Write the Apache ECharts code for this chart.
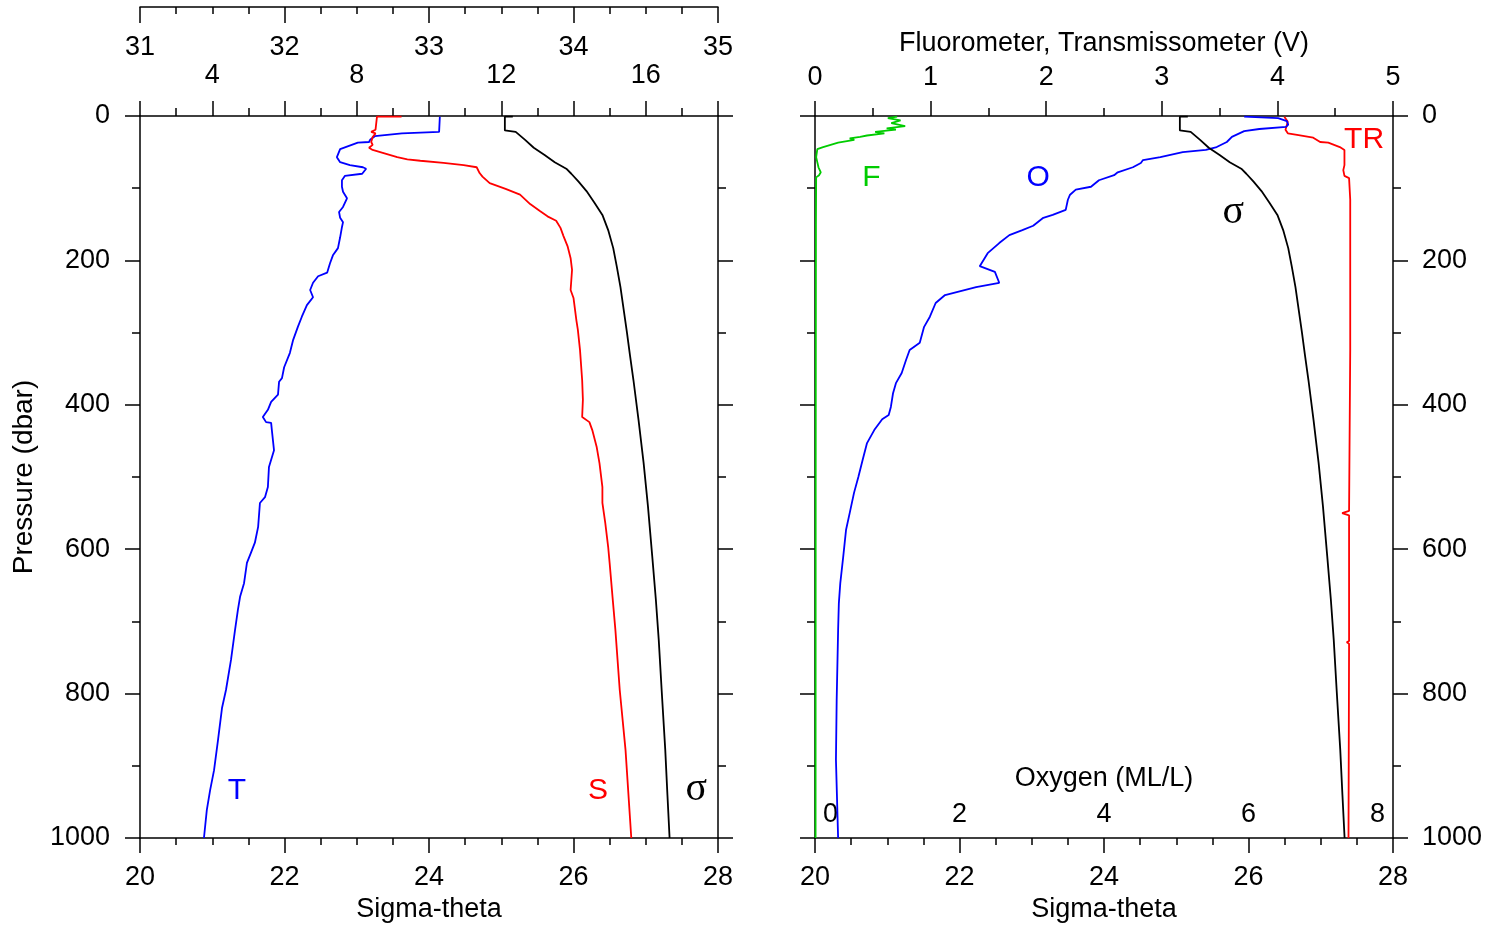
<!DOCTYPE html>
<html>
  <head>
    <meta charset="utf-8" />
    <title>CTD profile</title>
    <script src="https://cdn.jsdelivr.net/npm/echarts@6.0.0/dist/echarts.min.js"></script>
  </head>
  <body style="margin: 0">
    <div id="main" style="width: 1499px; height: 929px"></div>

    <script>
      // profiles as [value, pressure (dbar)]
      var temperature = [
        [10.3, 1], [10.28, 22], [9.25, 24], [8.5, 28], [8.37, 33], [8.34, 36], [8.03, 37],
        [7.54, 46], [7.45, 57], [7.54, 64], [7.81, 68], [8.17, 71], [8.26, 73], [8.15, 80],
        [7.67, 83], [7.59, 89], [7.59, 98], [7.62, 105], [7.73, 114], [7.62, 126], [7.51, 133],
        [7.54, 141], [7.62, 147], [7.59, 154], [7.54, 168], [7.48, 183], [7.34, 193], [7.26, 204],
        [7.18, 217], [6.93, 222], [6.79, 231], [6.71, 241], [6.79, 251], [6.62, 262], [6.48, 278],
        [6.37, 292], [6.24, 310], [6.15, 328], [5.99, 348], [5.93, 363], [5.85, 368], [5.82, 386],
        [5.63, 396], [5.54, 407], [5.4, 417], [5.49, 424], [5.63, 425], [5.65, 435], [5.71, 463],
        [5.57, 486], [5.54, 514], [5.46, 528], [5.32, 536], [5.27, 569], [5.18, 591], [5.07, 605],
        [4.96, 619], [4.88, 647], [4.77, 666], [4.71, 684], [4.63, 712], [4.52, 753], [4.38, 795],
        [4.27, 820], [4.16, 864], [4.05, 906], [3.94, 934], [3.85, 961], [3.77, 1000]
      ];
      var salinity = [
        [32.81, 1], [32.64, 1], [32.63, 19], [32.6, 22], [32.63, 24], [32.61, 29], [32.6, 36],
        [32.61, 40], [32.585, 44], [32.61, 47], [32.68, 51], [32.78, 57], [32.85, 60], [32.94, 62],
        [33.1, 65], [33.24, 68], [33.33, 71], [33.35, 79], [33.37, 84], [33.42, 93], [33.53, 101],
        [33.63, 109], [33.7, 122], [33.77, 132], [33.82, 139], [33.88, 145], [33.91, 155],
        [33.93, 166], [33.96, 181], [33.98, 197], [33.99, 213], [33.98, 241], [34.0, 252],
        [34.02, 283], [34.03, 296], [34.045, 324], [34.06, 366], [34.065, 393], [34.06, 417],
        [34.11, 424], [34.13, 435], [34.16, 458], [34.18, 481], [34.2, 514], [34.2, 536],
        [34.22, 564], [34.24, 597], [34.25, 619], [34.27, 666], [34.29, 712], [34.32, 795],
        [34.36, 878], [34.4, 1000]
      ];
      var sigmaTheta = [
        [25.16, 1], [25.05, 1], [25.05, 20], [25.2, 22], [25.33, 33], [25.45, 44], [25.6, 54],
        [25.74, 64], [25.9, 73], [25.97, 80], [26.07, 91], [26.18, 104], [26.29, 120], [26.4, 137],
        [26.48, 158], [26.55, 183], [26.6, 209], [26.65, 237], [26.69, 265], [26.74, 300],
        [26.78, 330], [26.83, 366], [26.9, 421], [26.97, 480], [27.03, 540], [27.09, 610],
        [27.14, 670], [27.18, 726], [27.22, 795], [27.27, 878], [27.3, 940], [27.33, 1000]
      ];
      var oxygen = [
        [5.94, 1], [6.41, 3], [6.53, 7], [6.55, 12], [6.52, 15], [6.15, 18], [5.94, 21], [5.77, 29],
        [5.7, 36], [5.56, 43], [5.41, 47], [5.09, 50], [4.78, 57], [4.54, 61], [4.51, 65], [4.4, 71],
        [4.19, 78], [4.14, 82], [3.93, 89], [3.82, 98], [3.61, 102], [3.53, 109], [3.5, 116],
        [3.47, 130], [3.29, 137], [3.16, 141], [3.02, 152], [2.87, 158], [2.69, 165], [2.55, 176],
        [2.39, 190], [2.28, 208], [2.49, 216], [2.55, 231], [2.23, 237], [1.8, 248], [1.67, 259],
        [1.59, 278], [1.51, 292], [1.45, 314], [1.31, 324], [1.26, 338], [1.2, 356], [1.12, 370],
        [1.08, 384], [1.05, 403], [1.02, 414], [0.93, 420], [0.82, 435], [0.72, 453], [0.66, 476],
        [0.6, 500], [0.54, 522], [0.48, 550], [0.43, 573], [0.39, 611], [0.35, 647], [0.33, 675],
        [0.32, 712], [0.3, 809], [0.29, 892], [0.32, 1000]
      ];
      var fluorometer = [
        [0.71, 1], [0.63, 3], [0.74, 6], [0.66, 10], [0.78, 14], [0.62, 17], [0.7, 19], [0.52, 22],
        [0.6, 24], [0.45, 27], [0.39, 29], [0.3, 31], [0.34, 33], [0.2, 37], [0.07, 43], [0.02, 46],
        [0.01, 57], [0.03, 71], [0.05, 78], [0.035, 82], [0.01, 85], [0.008, 150], [0.006, 500],
        [0.005, 1000]
      ];
      var transmissometer = [
        [4.06, 1], [4.09, 8], [4.07, 19], [4.09, 24], [4.17, 26], [4.31, 30], [4.37, 36], [4.44, 37],
        [4.54, 43], [4.58, 47], [4.58, 68], [4.57, 75], [4.58, 83], [4.62, 86], [4.63, 116],
        [4.63, 324], [4.62, 547], [4.56, 550], [4.62, 553], [4.62, 727], [4.6, 729], [4.62, 731],
        [4.615, 1000]
      ];
      // curve tags: [text, sigma-theta, pressure]
      var leftTags = [["T", 21.34, 934], ["S", 26.34, 934], ["σ", 27.7, 933]];
      var rightTags = [["F", 20.78, 85], ["O", 23.09, 85], ["σ", 25.79, 134], ["TR", 27.6, 33]];

      var font = "Liberation Sans, Arial, sans-serif";
      var tagColor = { T: "#0000ff", S: "#ff0000", F: "#00cc00", O: "#0000ff", TR: "#ff0000", "σ": "#000000" };

      function axis(extra) {
        var a = {
          type: "value",
          axisLine: { show: true, onZero: false, lineStyle: { color: "#000", width: 1.5 } },
          axisTick: { show: true, length: 15, lineStyle: { color: "#000", width: 1.5 } },
          minorTick: { show: true, splitNumber: 2, length: 8, lineStyle: { color: "#000", width: 1.5 } },
          splitLine: { show: false },
          axisLabel: { color: "#000", fontSize: 27, fontFamily: font },
          nameTextStyle: { color: "#000", fontSize: 27, fontFamily: font },
          nameMoveOverlap: false,
        };
        for (var k in extra) {
          if (typeof extra[k] === "object" && a[k] && typeof a[k] === "object") {
            a[k] = Object.assign({}, a[k], extra[k]);
          } else {
            a[k] = extra[k];
          }
        }
        return a;
      }

      function pressureAxis(grid, pos, labels, extra) {
        return axis(Object.assign({
          gridIndex: grid, position: pos, inverse: true, min: 0, max: 1000, interval: 200,
          axisLabel: { show: labels, margin: 30, formatter: function (v) { return String(v); } },
        }, extra || {}));
      }

      function curve(data, color, xi, yi) {
        return {
          type: "line", data: data, xAxisIndex: xi, yAxisIndex: yi,
          showSymbol: false, symbol: "none", silent: true,
          lineStyle: { color: color, width: 1.8 },
        };
      }

      function tags(list, xi, yi) {
        return {
          type: "scatter", xAxisIndex: xi, yAxisIndex: yi, symbolSize: 1,
          itemStyle: { opacity: 0 }, silent: true,
          data: list.map(function (t) {
            var serif = t[0] === "σ";
            return {
              name: t[0], value: [t[1], t[2]],
              label: {
                show: true, position: "inside", formatter: "{b}", opacity: 1,
                color: tagColor[t[0]], textBorderWidth: 0,
                fontSize: serif ? 40 : 30,
                fontFamily: serif ? "Liberation Serif, DejaVu Serif, serif" : font,
              },
            };
          }),
        };
      }

      var chart = echarts.init(document.getElementById("main"));
      chart.setOption({
        animation: false,
        backgroundColor: "#fff",
        grid: [
          { left: 140, top: 116, width: 578, height: 722, outerBoundsMode: "none" },
          { left: 815, top: 116, width: 578, height: 722, outerBoundsMode: "none" },
        ],
        xAxis: [
          axis({
            gridIndex: 0, position: "bottom", min: 20, max: 28, interval: 2,
            minorTick: { splitNumber: 4, length: 7 }, axisLabel: { margin: 26 },
            name: "Sigma-theta", nameLocation: "middle", nameGap: 58,
          }),
          axis({
            gridIndex: 0, position: "top", min: 2, max: 18, interval: 2,
            axisLabel: { margin: 27, formatter: function (v) { return v % 4 === 0 ? v : ""; } },
          }),
          axis({
            gridIndex: 0, position: "top", offset: 109, min: 31, max: 35, interval: 1,
            axisTick: { inside: true, length: 16 }, minorTick: { splitNumber: 4, length: 7 },
            axisLabel: { inside: true, margin: 27 },
          }),
          axis({
            gridIndex: 1, position: "bottom", min: 20, max: 28, interval: 2,
            minorTick: { splitNumber: 4, length: 7 }, axisLabel: { margin: 26 },
            name: "Sigma-theta", nameLocation: "middle", nameGap: 58,
          }),
          axis({
            gridIndex: 1, position: "bottom", min: 0, max: 8, interval: 2,
            axisLine: { show: false }, axisTick: { show: false }, minorTick: { show: false },
            axisLabel: { inside: true, margin: 10, alignMinLabel: "left", alignMaxLabel: "right", padding: [0, 8] },
            name: "Oxygen (ML/L)", nameLocation: "middle", nameGap: -73,
          }),
          axis({
            gridIndex: 1, position: "top", min: 0, max: 5, interval: 1,
            axisLabel: { margin: 25 },
            name: "Fluorometer, Transmissometer (V)", nameLocation: "middle", nameGap: 59,
          }),
        ],
        yAxis: [
          pressureAxis(0, "left", true, {
            name: "Pressure (dbar)", nameLocation: "middle", nameGap: 102, nameRotate: 90,
            nameTextStyle: { color: "#000", fontSize: 28, fontFamily: font },
          }),
          pressureAxis(0, "right", false),
          pressureAxis(1, "left", false),
          pressureAxis(1, "right", true, {
            axisLabel: { show: true, margin: 29, formatter: function (v) { return String(v); } },
          }),
        ],
        series: [
          curve(temperature, "#0000ff", 1, 0),
          curve(salinity, "#ff0000", 2, 0),
          curve(sigmaTheta, "#000000", 0, 0),
          curve(fluorometer, "#00cc00", 5, 2),
          curve(transmissometer, "#ff0000", 5, 2),
          curve(oxygen, "#0000ff", 4, 2),
          curve(sigmaTheta, "#000000", 3, 2),
          tags(leftTags, 0, 0),
          tags(rightTags, 3, 2),
        ],
      });
    </script>
  </body>
</html>
